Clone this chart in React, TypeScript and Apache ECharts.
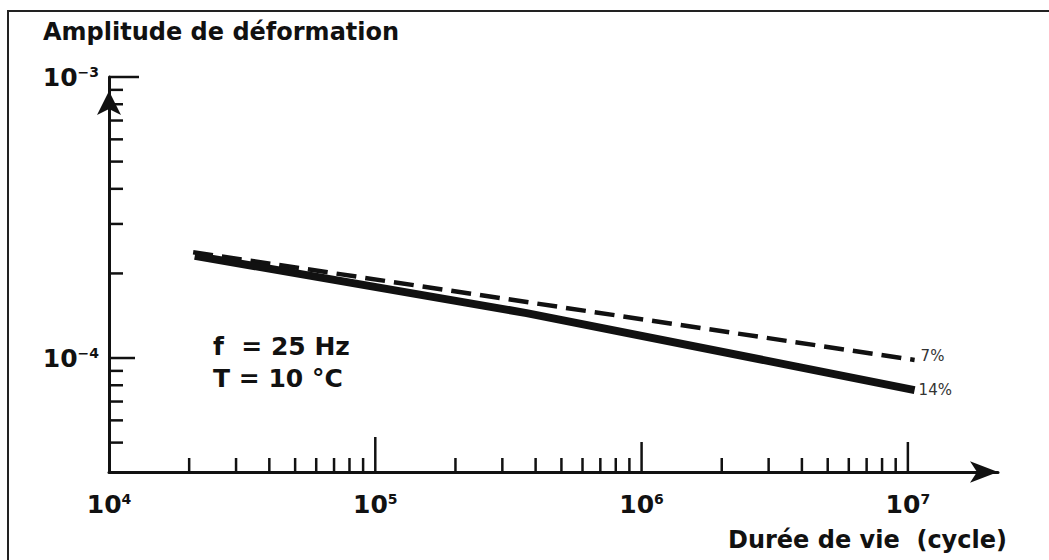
import React, { useEffect, useRef } from "react";
import * as echarts from "echarts";

// ---- data ----
const xMin = 1e4;
const xMax = 2.18e7;
const yMin = 3.93e-5;
const yMax = 1e-3;

const xTickMajor = [1e5, 1e6, 1e7];
const xTickMinor = [
  2e4, 3e4, 4e4, 5e4, 6e4, 7e4, 8e4, 9e4,
  2e5, 3e5, 4e5, 5e5, 6e5, 7e5, 8e5, 9e5,
  2e6, 3e6, 4e6, 5e6, 6e6, 7e6, 8e6, 9e6,
];
const yTickMajor = [1e-4];
const yTickTop = [1e-3];
const yTickMinor = [
  5e-5, 6e-5, 7e-5, 8e-5, 9e-5,
  2e-4, 3e-4, 4e-4, 5e-4, 6e-4, 7e-4, 8e-4, 9e-4,
];

const seriesNames = ["7%", "14%"];
const cycles7 = [2.07e4, 1.06e7];
const strain7 = [2.38e-4, 9.84e-5];
const cycles14 = [2.1e4, 3.7e5, 1.06e7];
const strain14 = [2.31e-4, 1.445e-4, 7.69e-5];

const titleText = "Amplitude de déformation";
const xNameText = "Durée de vie  (cycle)";
const noteLines = ["f  = 25 Hz", "T = 10 °C"];

const FONT = '"DejaVu Sans", "Open Sans", sans-serif';
const INK = "#111";

function isPow10(v: number) {
  const l = Math.log10(v);
  return Math.abs(l - Math.round(l)) < 1e-6;
}

export default function App() {
  const ref = useRef<HTMLDivElement>(null);

  useEffect(() => {
    if (!ref.current) return;
    const chart = echarts.init(ref.current, undefined, { renderer: "svg" });

    const xTickData = [
      ...xTickMinor.map((v) => [v, yMin, 14]),
      ...xTickMajor.map((v, i) => [v, yMin, i === 0 ? 35 : 30]),
    ];
    const yTickData = [
      ...yTickMinor.map((v) => [xMin, v, 14]),
      ...yTickMajor.map((v) => [xMin, v, 26]),
      ...yTickTop.map((v) => [xMin, v, 30]),
    ];

    const rich = {
      b: { fontSize: 25, fontWeight: "bold", fontFamily: FONT, color: INK },
      s: { fontSize: 14, fontWeight: "bold", fontFamily: FONT, color: INK, verticalAlign: "top" },
    };

    const option: any = {
      animation: false,
      backgroundColor: "#fff",
      grid: { left: 109, right: 51, top: 77, bottom: 88, containLabel: false },
      xAxis: {
        type: "log",
        logBase: 10,
        min: xMin,
        max: xMax,
        splitLine: { show: false },
        axisTick: { show: false },
        axisLine: {
          show: true,
          lineStyle: { color: INK, width: 3 },
          symbol: ["none", "arrow"],
          symbolSize: [16, 28],
        },
        axisLabel: {
          margin: 20,
          formatter: (v: number) =>
            isPow10(v) && v <= 1e7 ? `{b|10}{s|${Math.round(Math.log10(v))}}` : "",
          rich,
        },
      },
      yAxis: {
        type: "log",
        logBase: 10,
        min: yMin,
        max: yMax,
        splitLine: { show: false },
        axisTick: { show: false },
        axisLine: {
          show: true,
          lineStyle: { color: INK, width: 3 },
          symbol: ["none", "arrow"],
          symbolSize: [18, 24],
          symbolOffset: [0, -14],
        },
        axisLabel: {
          margin: 10,
          formatter: (v: number) =>
            isPow10(v) ? `{b|10}{s|−${Math.abs(Math.round(Math.log10(v)))}}` : "",
          rich,
        },
      },
      series: [
        {
          type: "custom",
          name: "xticks",
          silent: true,
          data: xTickData,
          renderItem: (params: any, api: any) => {
            const p = api.coord([api.value(0), api.value(1)]);
            const len = api.value(2);
            return {
              type: "line",
              shape: { x1: p[0], y1: p[1], x2: p[0], y2: p[1] - len },
              style: { stroke: INK, lineWidth: 2.5 },
            };
          },
        },
        {
          type: "custom",
          name: "yticks",
          silent: true,
          data: yTickData,
          renderItem: (params: any, api: any) => {
            const p = api.coord([api.value(0), api.value(1)]);
            const len = api.value(2);
            return {
              type: "line",
              shape: { x1: p[0], y1: p[1], x2: p[0] + len, y2: p[1] },
              style: { stroke: INK, lineWidth: 2.5 },
            };
          },
        },
        {
          type: "line",
          name: seriesNames[0],
          data: cycles7.map((c, i) => [c, strain7[i]]),
          showSymbol: false,
          symbol: "none",
          lineStyle: { color: INK, width: 4.5, type: [20, 9] },
          endLabel: {
            show: true,
            formatter: seriesNames[0],
            fontSize: 15,
            fontFamily: FONT,
            color: "#333",
            distance: 6,
            offset: [0, -4],
          },
        },
        {
          type: "line",
          name: seriesNames[1],
          data: cycles14.map((c, i) => [c, strain14[i]]),
          showSymbol: false,
          symbol: "none",
          lineStyle: { color: INK, width: 8, cap: "butt" },
          endLabel: {
            show: true,
            formatter: seriesNames[1],
            fontSize: 15,
            fontFamily: FONT,
            color: "#333",
            distance: 4,
          },
        },
      ],
      graphic: [
        {
          type: "rect",
          shape: { x: 8, y: 11, width: 1070, height: 600 },
          style: { fill: "none", stroke: "#222", lineWidth: 2 },
          silent: true,
        },
        {
          type: "text",
          x: 43,
          y: 20,
          style: {
            text: titleText,
            fontSize: 24,
            fontWeight: "bold",
            fontFamily: FONT,
            fill: INK,
            verticalAlign: "top",
          },
        },
        {
          type: "text",
          x: 728,
          y: 528,
          style: {
            text: xNameText,
            fontSize: 24,
            fontWeight: "bold",
            fontFamily: FONT,
            fill: INK,
            verticalAlign: "top",
          },
        },
        {
          type: "text",
          x: 213,
          y: 334,
          style: {
            text: noteLines[0],
            fontSize: 25,
            fontWeight: "bold",
            fontFamily: FONT,
            fill: INK,
            verticalAlign: "top",
          },
        },
        {
          type: "text",
          x: 213,
          y: 366,
          style: {
            text: noteLines[1],
            fontSize: 25,
            fontWeight: "bold",
            fontFamily: FONT,
            fill: INK,
            verticalAlign: "top",
          },
        },
      ],
    };

    chart.setOption(option);
    return () => chart.dispose();
  }, []);

  return (
    <div
      ref={ref}
      style={{ position: "fixed", left: 0, top: 0, width: 1049, height: 560, background: "#fff" }}
    />
  );
}
